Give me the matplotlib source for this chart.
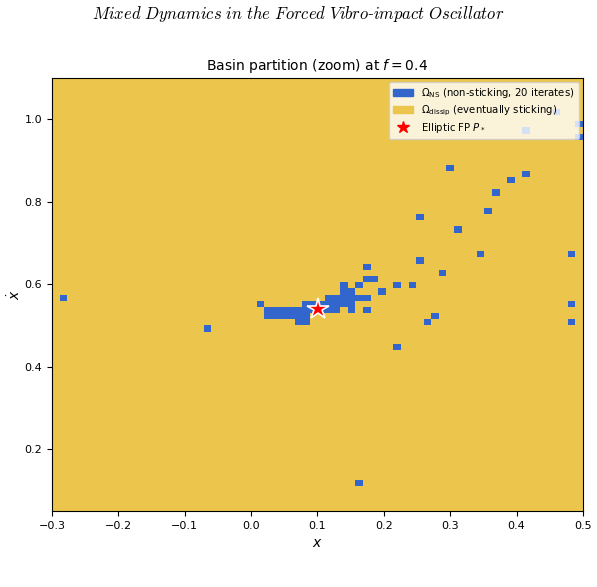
import numpy as np
import matplotlib
matplotlib.use("Agg")
import matplotlib.pyplot as plt
from matplotlib.colors import ListedColormap
from matplotlib.patches import Patch
from matplotlib.lines import Line2D

# ---- data ----
x_range = [-0.3, 0.5]
y_range = [0.05, 1.1]
n_grid = 70
f_value = 0.4
fp_x, fp_y = 0.101, 0.541

# centres of non-sticking cells (x, xdot)
ns_x = [0.1743,
        0.1743, 0.1857,
        0.1400, 0.1629, 0.2200, 0.2429,
        0.1400, 0.1514, 0.1971,
        0.1171, 0.1286, 0.1400, 0.1514, 0.1629, 0.1743,
        0.0143, 0.0829, 0.0943, 0.1057, 0.1171, 0.1286, 0.1400, 0.1514,
        0.0257, 0.0371, 0.0486, 0.0600, 0.0714, 0.0829, 0.0943, 0.1057, 0.1171, 0.1286, 0.1514, 0.1743,
        0.0257, 0.0371, 0.0486, 0.0600, 0.0714, 0.0829,
        0.0714, 0.0829,
        -0.2829, -0.0657, 0.1629, 0.2200, 0.2543, 0.2543, 0.2657, 0.2771, 0.2886,
        0.3000, 0.3114, 0.3457, 0.3571, 0.3686, 0.3914, 0.4143, 0.4143,
        0.4829, 0.4829, 0.4829, 0.4943, 0.4943, 0.4600]
ns_y = [0.6425,
        0.6125, 0.6125,
        0.5975, 0.5975, 0.5975, 0.5975,
        0.5825, 0.5825, 0.5825,
        0.5675, 0.5675, 0.5675, 0.5675, 0.5675, 0.5675,
        0.5525, 0.5525, 0.5525, 0.5525, 0.5525, 0.5525, 0.5525, 0.5525,
        0.5375, 0.5375, 0.5375, 0.5375, 0.5375, 0.5375, 0.5375, 0.5375, 0.5375, 0.5375, 0.5375, 0.5375,
        0.5225, 0.5225, 0.5225, 0.5225, 0.5225, 0.5225,
        0.5075, 0.5075,
        0.5675, 0.4925, 0.1175, 0.4475, 0.7625, 0.6575, 0.5075, 0.5225, 0.6275,
        0.8825, 0.7325, 0.6725, 0.7775, 0.8225, 0.8525, 0.8675, 0.9725,
        0.6725, 0.5525, 0.5075, 0.9875, 0.9575, 1.0175]

col_dissip = '#EBC54C'
col_ns = '#3366CC'

# ---- build grid ----
dx = (x_range[1] - x_range[0]) / n_grid
dy = (y_range[1] - y_range[0]) / n_grid
grid = np.zeros((n_grid, n_grid))
for xv, yv in zip(ns_x, ns_y):
    i = int(np.floor((xv - x_range[0]) / dx))
    j = int(np.floor((yv - y_range[0]) / dy))
    grid[j, i] = 1

fig = plt.figure(figsize=(5.97, 5.87), dpi=100)
ax = fig.add_axes([0.0871, 0.1295, 0.8894, 0.7376])
ax.imshow(grid, extent=[x_range[0], x_range[1], y_range[0], y_range[1]],
          origin='lower', aspect='auto', interpolation='nearest',
          cmap=ListedColormap([col_dissip, col_ns]), vmin=0, vmax=1)
ax.plot([fp_x], [fp_y], marker='*', color='red', markersize=16,
        markeredgecolor='white', markeredgewidth=1.2, linestyle='none')
ax.set_xlim(*x_range)
ax.set_ylim(y_range)
ax.set_xticks(np.arange(-0.3, 0.51, 0.1))
ax.set_yticks([0.2, 0.4, 0.6, 0.8, 1.0])
ax.tick_params(labelsize=8)
ax.set_xlabel('$x$', fontsize=10)
ax.set_ylabel(r'$\dot{x}$', fontsize=10, labelpad=1)
ax.set_title(r'Basin partition (zoom) at $f = %.1f$' % f_value, fontsize=10)

handles = [Patch(color=col_ns, label=r'$\Omega_{\rm NS}$ (non-sticking, 20 iterates)'),
           Patch(color=col_dissip, label=r'$\Omega_{\rm dissip}$ (eventually sticking)'),
           Line2D([], [], marker='*', color='red', linestyle='none', markersize=9,
                  label=r'Elliptic FP $P_*$')]
ax.legend(handles=handles, loc='upper right', fontsize=7.3, framealpha=0.8,
          borderaxespad=0.4, handlelength=2.0, labelspacing=0.3)

fig.text(0.5, 0.976, r'$\mathit{Mixed\ Dynamics\ in\ the\ Forced\ Vibro}$-$\mathit{impact\ Oscillator}$',
         ha='center', va='center', fontsize=12, family='serif', math_fontfamily='cm')

fig.savefig('out.png', dpi=100)
